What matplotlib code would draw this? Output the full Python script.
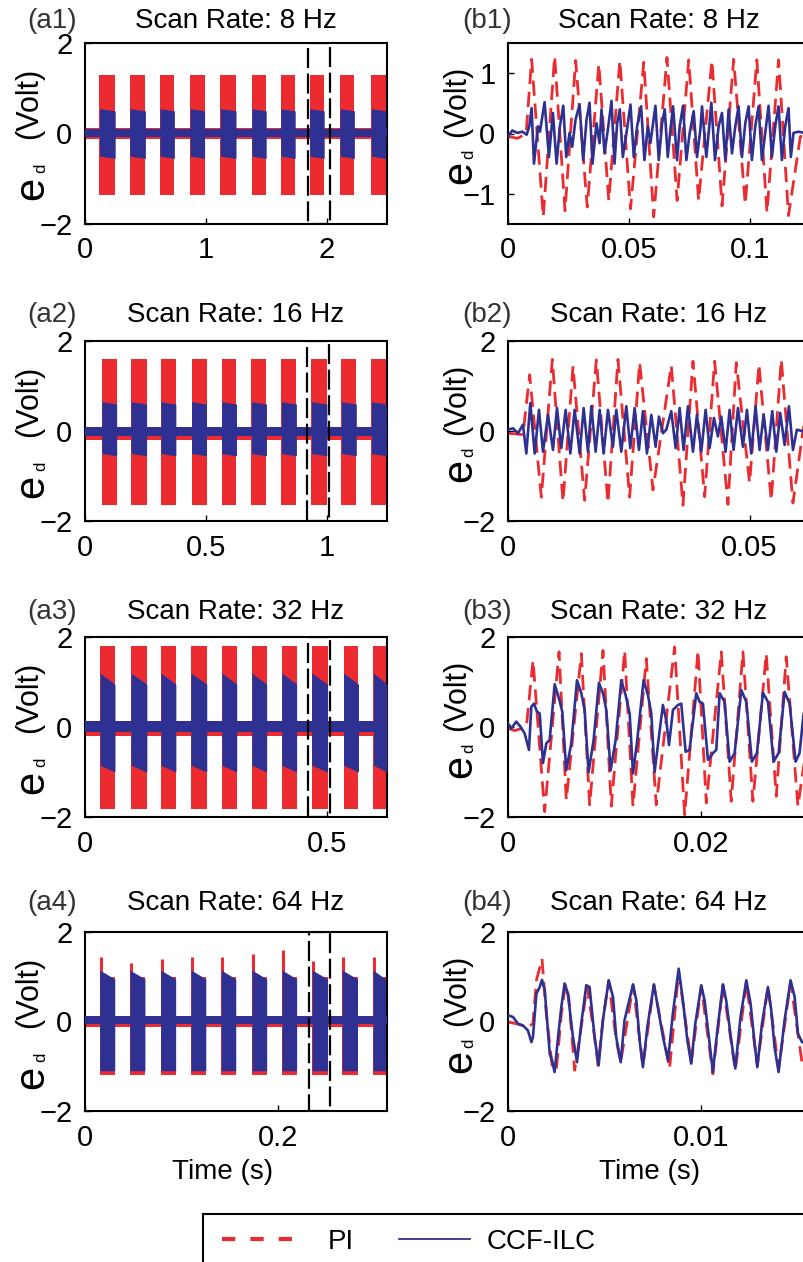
import numpy as np
import matplotlib.pyplot as plt
from matplotlib.patches import Rectangle
from matplotlib.lines import Line2D

plt.rcParams['font.family'] = ['Liberation Sans', 'DejaVu Sans']

RED = '#ec2b30'
BLUE = '#2e3192'

# ---- overview panels (a): burst windows and envelopes ----
a1_start = [0.12, 0.37, 0.62, 0.87, 1.12, 1.38, 1.62, 1.86, 2.11, 2.37]
a1_end = [0.25, 0.50, 0.74, 0.99, 1.25, 1.50, 1.74, 1.98, 2.23, 2.49]
a2_start = [0.069, 0.190, 0.314, 0.441, 0.565, 0.689, 0.813, 0.937, 1.061, 1.185]
a2_end = [0.131, 0.255, 0.376, 0.503, 0.627, 0.751, 0.875, 1.001, 1.123, 1.247]
a3_start = [0.031, 0.095, 0.157, 0.219, 0.283, 0.345, 0.407, 0.469, 0.535, 0.597]
a3_end = [0.062, 0.128, 0.188, 0.252, 0.314, 0.376, 0.438, 0.502, 0.566, 0.625]
a4_start = [0.0152, 0.0464, 0.0782, 0.1097, 0.1409, 0.1727, 0.2038, 0.235, 0.266, 0.298]
a4_end = [0.0308, 0.062, 0.0938, 0.125, 0.156, 0.188, 0.219, 0.251, 0.282, 0.311]
a4_pi_spike = [1.45, 1.30, 1.40, 1.45, 1.45, 1.50, 1.60, 1.35, 1.45, 1.45]

# envelopes (value at burst start, value at burst end)
a_pi_hi = [(1.30, 1.30), (1.60, 1.60), (1.80, 1.80), (1.00, 1.00)]
a_pi_lo = [(-1.35, -1.35), (-1.65, -1.65), (-1.82, -1.82), (-1.20, -1.20)]
a_ilc_hi = [(0.55, 0.50), (0.65, 0.60), (1.20, 0.95), (1.15, 0.95)]
a_ilc_lo = [(-0.50, -0.55), (-0.50, -0.55), (-0.85, -1.00), (-1.10, -1.10)]
a_pi_base = [(-0.12, 0.12), (-0.20, 0.10), (-0.20, 0.12), (-0.12, 0.12)]
a_ilc_base = [(-0.08, 0.10), (-0.12, 0.08), (-0.12, 0.13), (-0.05, 0.13)]
a_xmax = [2.5, 1.25, 0.625, 0.3125]
a_box = [(1.845, 2.025), (0.919, 1.012), (0.462, 0.507), (0.2316, 0.254)]
a_ticks = [[0, 1, 2], [0, 0.5, 1], [0, 0.5], [0, 0.2]]
a_tick_labels = [['0', '1', '2'], ['0', '0.5', '1'], ['0', '0.5'], ['0', '0.2']]

# ---- zoomed panels (b): times in ms, error in Volt ----
b1_pi_t = [0, 4.0, 7.5, 9.78, 14.6, 19.3, 23.6, 28.0, 32.8, 37.6, 41.7, 46.3, 50.7, 56.2, 60.3,
           65.8, 70.0, 74.8, 78.9, 84.4, 88.6, 93.4, 98.2, 103.0, 107.2, 112.0, 116.1, 121.0, 125.0]
b1_pi_v = [-0.05, -0.08, 0.0, 1.23, -1.38, 1.28, -1.28, 1.21, -1.22, 1.15, -1.11, 1.21, -1.25, 1.18,
           -1.38, 1.26, -1.11, 1.22, -1.11, 1.21, -1.20, 1.23, -1.17, 1.22, -1.31, 1.22, -1.36, -0.05, -0.05]
b1_ilc_t = [0, 1.79, 3.86, 5.92, 7.71, 8.82, 9.78, 10.74, 12.40, 13.22, 15.15, 16.94, 18.60, 20.11,
            21.49, 22.87, 24.10, 25.48, 26.58, 27.96, 29.61, 31.13, 32.51, 33.75, 34.99, 36.64, 37.88,
            38.71, 39.94, 41.32, 42.84, 44.08, 45.18, 46.28, 47.52, 49.04, 50.69, 52.07, 53.44, 55.10,
            56.47, 57.85, 58.95, 61.02, 62.40, 63.77, 64.88, 66.12, 67.22, 68.32, 69.97, 71.07, 72.45,
            73.83, 75.21, 76.86, 78.24, 79.61, 80.30, 82.09, 83.06, 84.16, 85.67, 87.19, 88.57, 89.94,
            91.32, 92.70, 94.08, 95.45, 96.83, 98.21, 99.59, 100.96, 102.34, 103.72, 105.10, 106.47,
            107.85, 109.23, 110.61, 111.98, 113.36, 114.74, 116.12, 117.08, 118.18, 120.25, 122.59, 125.0]
b1_ilc_v = [-0.05, 0.05, 0.01, 0.03, -0.02, 0.12, 0.42, -0.50, 0.12, 0.03, 0.52, -0.39, 0.34, -0.50,
            0.12, 0.46, -0.39, 0.01, -0.22, 0.23, 0.48, -0.44, 0.23, 0.51, -0.50, 0.17, -0.16, 0.40,
            -0.33, 0.06, 0.54, -0.50, 0.17, 0.40, -0.39, 0.01, 0.48, -0.39, 0.12, 0.45, -0.44, 0.12,
            -0.16, 0.46, -0.44, 0.17, 0.40, -0.39, 0.06, 0.45, -0.44, 0.12, 0.46, -0.44, 0.01, 0.37,
            -0.39, 0.06, 0.45, -0.39, 0.01, 0.51, -0.44, 0.12, 0.34, -0.44, 0.40, -0.33, 0.12, 0.45,
            -0.39, 0.17, 0.45, -0.44, 0.12, 0.45, -0.44, 0.01, 0.46, -0.39, 0.12, 0.45, -0.44, 0.12,
            0.42, -0.39, 0.01, 0.03, 0.01, 0.0]

b2_pi_t = [0, 3.10, 4.48, 6.90, 9.17, 11.38, 13.45, 15.86, 18.28, 20.69, 22.76, 25.17, 27.24, 30.00,
           33.79, 36.21, 38.28, 40.69, 42.76, 45.52, 47.24, 50.00, 51.93, 54.48, 56.55, 58.97, 61.17, 62.5]
b2_pi_v = [-0.05, -0.08, 1.25, -1.47, 1.59, -1.57, 1.44, -1.54, 1.58, -1.60, 1.59, -1.47, 1.52, -1.31,
           1.46, -1.65, 1.55, -1.46, 1.55, -1.63, 1.52, -1.15, 1.48, -1.54, 1.59, -1.60, 0.1, 0.1]
b2_ilc_t = [0, 1.03, 2.07, 3.10, 3.79, 4.62, 5.52, 6.41, 7.24, 8.28, 9.31, 10.14, 11.03, 11.93, 12.90,
            13.79, 14.83, 15.66, 16.55, 17.24, 18.14, 18.97, 19.79, 20.69, 21.72, 22.41, 23.45, 24.48,
            25.31, 26.21, 27.10, 27.93, 28.76, 29.66, 30.55, 31.24, 32.07, 32.76, 33.79, 34.69, 35.52,
            36.34, 37.24, 38.28, 39.10, 40.00, 40.90, 41.72, 42.62, 43.45, 44.14, 45.03, 45.86, 46.69,
            47.59, 48.62, 49.45, 50.34, 51.24, 52.07, 52.90, 53.79, 54.69, 55.52, 56.34, 57.24, 58.14,
            58.97, 59.79, 61.17, 62.5]
b2_ilc_v = [0.03, 0.06, -0.05, 0.14, -0.50, 0.62, -0.50, 0.47, -0.46, 0.36, -0.42, 0.51, -0.38, 0.47,
            -0.50, 0.47, -0.50, 0.51, -0.46, 0.55, -0.46, 0.47, -0.50, 0.47, -0.35, 0.47, -0.46, 0.55,
            -0.38, 0.51, -0.42, 0.44, -0.50, 0.36, -0.35, 0.32, -0.05, 0.03, 0.44, -0.38, 0.51, -0.42,
            0.55, -0.46, 0.36, -0.46, 0.47, -0.38, 0.29, -0.12, 0.32, -0.46, 0.47, -0.42, 0.51, -0.35,
            0.47, -0.50, 0.55, -0.42, 0.36, -0.42, 0.44, -0.46, 0.40, -0.31, 0.55, -0.42, 0.03, -0.01, 0.0]

b3_pi_t = [0, 0.69, 1.90, 2.59, 3.79, 5.28, 6.03, 7.59, 8.45, 9.83, 10.69, 12.07, 12.93, 14.31, 15.34,
           17.24, 18.28, 19.66, 20.52, 22.07, 23.10, 24.31, 25.34, 26.72, 27.76, 28.79, 30.00, 30.59, 31.25]
b3_pi_v = [-0.03, -0.08, 0.0, 1.48, -1.88, 1.67, -1.62, 1.63, -1.73, 1.70, -1.76, 1.70, -1.76, 1.52,
           -1.73, 1.78, -1.95, 1.70, -1.69, 1.67, -1.65, 1.67, -1.65, 1.63, -1.54, 1.56, -1.76, -0.88, 0.2]
b3_ilc_t = [0.00, 0.34, 0.86, 1.28, 1.72, 2.17, 2.41, 2.69, 3.00, 3.28, 3.62, 3.97, 4.31, 4.83, 5.28,
            5.62, 6.03, 6.55, 7.14, 7.59, 7.93, 8.34, 8.86, 9.41, 9.83, 10.17, 10.62, 11.14, 11.72,
            12.17, 12.59, 12.93, 13.34, 14.03, 14.48, 14.83, 15.17, 15.62, 16.03, 16.38, 16.66, 17.07,
            17.59, 17.93, 18.38, 18.79, 19.48, 19.83, 20.17, 20.69, 21.21, 21.55, 21.90, 22.41, 22.93,
            23.45, 24.14, 24.66, 25.24, 25.76, 26.38, 26.90, 27.48, 28.00, 28.62, 29.14, 29.76, 30.17,
            30.59, 31.25]
b3_ilc_v = [0.08, -0.03, 0.12, 0.01, -0.14, -0.51, 0.45, 0.52, 0.34, 0.30, -0.80, -0.36, -0.29, 0.95,
            0.63, 0.34, -0.96, -0.36, 1.04, 0.75, 0.38, -1.00, -0.29, 0.98, 0.75, 0.38, -0.96, -0.29,
            1.04, 0.71, 0.30, -1.03, -0.36, 1.04, 0.71, 0.30, -1.00, -0.21, 0.49, 0.15, -0.40, 0.38,
            0.49, 0.52, -0.55, -0.51, 0.75, 0.56, 0.52, -0.73, -0.58, -0.51, 0.75, 0.56, -0.77, -0.58,
            0.82, 0.56, -0.77, -0.58, 0.76, 0.56, -0.77, -0.58, 0.78, 0.52, -0.77, -0.58, 0.30, 0.50]

b4_pi_t = [0, 0.52, 1.03, 1.29, 1.47, 1.76, 1.98, 2.28, 2.50, 2.76, 2.97, 3.14, 3.45, 3.79, 4.09, 4.48,
           4.66, 4.91, 5.21, 5.60, 5.83, 6.47, 6.98, 7.55, 8.36, 8.83, 9.48, 10.00, 10.60, 11.12, 11.76,
           12.33, 12.90, 13.45, 14.00, 14.62, 15.21, 15.625]
b4_pi_v = [-0.01, -0.06, -0.12, -0.05, 0.92, 1.40, 0.17, -0.98, -1.09, 0.17, 0.83, 0.55, -1.09, -0.12,
           0.79, -0.35, -0.98, 0.03, 0.91, -0.42, -0.91, 0.81, -0.98, 0.81, -1.05, 1.11, -0.91, 0.79,
           -1.17, 0.81, -1.09, 0.88, -0.98, 0.79, -1.05, 0.88, -0.91, -0.9]
b4_ilc_t = [0.00, 0.26, 0.52, 0.78, 1.03, 1.21, 1.29, 1.47, 1.64, 1.76, 1.90, 2.16, 2.28, 2.41, 2.59,
            2.76, 2.93, 3.10, 3.36, 3.57, 3.79, 4.05, 4.22, 4.48, 4.69, 4.91, 5.21, 5.43, 5.60, 5.83,
            6.03, 6.47, 6.64, 6.81, 6.98, 7.21, 7.55, 7.72, 8.02, 8.28, 8.53, 8.83, 9.05, 9.28, 9.48,
            9.69, 10.00, 10.17, 10.43, 10.60, 10.83, 11.12, 11.29, 11.55, 11.76, 12.03, 12.33, 12.55,
            12.76, 12.90, 13.14, 13.45, 13.62, 13.79, 14.00, 14.31, 14.62, 14.83, 15.00, 15.21, 15.625]
b4_ilc_v = [0.14, 0.10, -0.05, -0.09, -0.20, -0.46, -0.35, 0.62, 0.77, 0.93, 0.70, -0.72, -0.87, -1.13,
            -0.35, 0.33, 0.85, 0.62, -0.35, -0.91, -0.05, 0.81, 0.77, -0.35, -0.98, 0.03, 0.92, 0.55,
            -0.35, -0.91, 0.03, 0.83, 0.47, -0.42, -1.02, -0.12, 0.83, 0.40, -0.35, -0.87, 0.18, 1.18,
            0.47, -0.42, -0.94, -0.05, 0.81, 0.47, -0.49, -1.13, -0.20, 0.83, 0.47, -0.42, -1.05, 0.10,
            0.92, 0.40, -0.49, -1.02, -0.05, 0.77, 0.25, -0.57, -1.13, 0.03, 0.92, 0.55, -0.27, -0.46, -0.5]

b_xmax = [0.125, 0.0625, 0.03125, 0.015625]
b_ylim = [1.5, 2, 2, 2]
b_yticks = [[-1, 0, 1], [-2, 0, 2], [-2, 0, 2], [-2, 0, 2]]
b_ticks = [[0, 0.05, 0.1], [0, 0.05], [0, 0.02], [0, 0.01]]
b_tick_labels = [['0', '0.05', '0.1'], ['0', '0.05'], ['0', '0.02'], ['0', '0.01']]

rates = [8, 16, 32, 64]
a_starts = [a1_start, a2_start, a3_start, a4_start]
a_ends = [a1_end, a2_end, a3_end, a4_end]
b_pi = [(b1_pi_t, b1_pi_v), (b2_pi_t, b2_pi_v), (b3_pi_t, b3_pi_v), (b4_pi_t, b4_pi_v)]
b_ilc = [(b1_ilc_t, b1_ilc_v), (b2_ilc_t, b2_ilc_v), (b3_ilc_t, b3_ilc_v), (b4_ilc_t, b4_ilc_v)]

# ---- layout (pixels of the 804x1262 canvas) ----
W, H = 804, 1262
rows = [(43, 224), (341, 521), (637, 817), (932, 1111)]
title_gap = [22, 26, 25, 29]
AX_W = 302
FS = 20

fig = plt.figure(figsize=(W / 100, H / 100), dpi=100)


def make_axes(left, top, bottom):
    return fig.add_axes([left / W, 1 - bottom / H, AX_W / W, (bottom - top) / H])


def ylab(ax, h, dx, dy):
    # dx: baselines of (Volt), e, d ; dy: centers below top of axes (pixels)
    parts = [('(Volt)', 22), ('e', 30), ('d', 12)]
    for (txt, size), x, y in zip(parts, dx, dy):
        ax.text(x / AX_W, 1 - y / h, txt, transform=ax.transAxes, rotation=90,
                rotation_mode='anchor', ha='center', va='baseline', fontsize=size)


def style(ax):
    for s in ax.spines.values():
        s.set_linewidth(1.5)
    ax.tick_params(direction='in', length=4, width=1, labelsize=21, pad=9,
                   top=False, right=False)


for i in range(4):
    top, bottom = rows[i]
    h = bottom - top
    ty = 1 + title_gap[i] / h

    # --- overview panel ---
    ax = make_axes(85, top, bottom)
    ax.fill_between([0, a_xmax[i]], a_pi_base[i][0], a_pi_base[i][1], color=RED, lw=0, zorder=1)
    for k, (s, e) in enumerate(zip(a_starts[i], a_ends[i])):
        ax.fill_between([s, e], [a_pi_lo[i][0], a_pi_lo[i][1]], [a_pi_hi[i][0], a_pi_hi[i][1]],
                        color=RED, lw=0, zorder=2)
        if i == 3:
            ax.vlines(s + 0.0012, 0, a4_pi_spike[k], color=RED, lw=2.2, zorder=2)
    ax.fill_between([0, a_xmax[i]], a_ilc_base[i][0], a_ilc_base[i][1], color=BLUE, lw=0, zorder=3)
    for s, e in zip(a_starts[i], a_ends[i]):
        ax.fill_between([s, e], [a_ilc_lo[i][0], a_ilc_lo[i][1]], [a_ilc_hi[i][0], a_ilc_hi[i][1]],
                        color=BLUE, lw=0, zorder=4)
    x0, x1 = a_box[i]
    ax.add_patch(Rectangle((x0, -2), x1 - x0, 4, fill=False, ec='k', lw=1.6,
                           ls=(0, (9, 2.5)), zorder=6))
    ax.set_xlim(0, a_xmax[i])
    ax.set_ylim(-2, 2)
    ax.set_xticks(a_ticks[i])
    ax.set_xticklabels(a_tick_labels[i])
    ax.set_yticks([-2, 0, 2])
    ax.set_yticklabels(['\u22122', '0', '2'])
    style(ax)
    ylab(ax, h, (-48, -42, -40), (60, 145, 125))
    ax.text(0.5, ty, f'Scan Rate: {rates[i]} Hz', transform=ax.transAxes,
            ha='center', va='center', fontsize=FS)
    ax.text(-0.109, ty, f'(a{i + 1})', transform=ax.transAxes, ha='center', va='center',
            fontsize=FS, color='#333333')
    if i == 3:
        ax.text(0.454, -61 / h, 'Time (s)', transform=ax.transAxes, ha='center', va='center',
                fontsize=FS)

    # --- zoomed panel ---
    bx = make_axes(508, top, bottom)
    pt, pv = b_pi[i]
    ct, cv = b_ilc[i]
    bx.plot(np.array(pt) / 1000, pv, color=RED, lw=2.0, dashes=(5.5, 2.8), zorder=2)
    bx.plot(np.array(ct) / 1000, cv, color=BLUE, lw=1.9, zorder=3)
    bx.set_xlim(0, b_xmax[i])
    bx.set_ylim(-b_ylim[i], b_ylim[i])
    bx.set_xticks(b_ticks[i])
    bx.set_xticklabels(b_tick_labels[i])
    bx.set_yticks(b_yticks[i])
    bx.set_yticklabels([str(v).replace('-', '\u2212') for v in b_yticks[i]])
    style(bx)
    ylab(bx, h, (-43, -37, -35), (58, 129, 111))
    bx.text(0.5, ty, f'Scan Rate: {rates[i]} Hz', transform=bx.transAxes,
            ha='center', va='center', fontsize=FS)
    bx.text(-0.07, ty, f'(b{i + 1})', transform=bx.transAxes, ha='center', va='center',
            fontsize=FS, color='#333333')
    if i == 3:
        bx.text(0.47, -61 / h, 'Time (s)', transform=bx.transAxes, ha='center', va='center',
                fontsize=FS)

# ---- legend: two single-entry legends so each label sits where it does in the figure ----
leg_y = 1 - 1242 / H
pi_handle = Line2D([], [], color=RED, lw=3, dashes=(3.2, 3.6))
ilc_handle = Line2D([], [], color=BLUE, lw=1.3)
fig.legend([pi_handle], ['PI'], loc='center left', bbox_to_anchor=(222 / W, leg_y),
           frameon=False, fontsize=FS, handlelength=2.55, handletextpad=1.25,
           borderpad=0, borderaxespad=0)
fig.legend([ilc_handle], ['CCF-ILC'], loc='center left', bbox_to_anchor=(399 / W, leg_y),
           frameon=False, fontsize=FS, handlelength=2.55, handletextpad=0.62,
           borderpad=0, borderaxespad=0)
fig.patches.append(Rectangle((203 / W, -0.05), 1, 0.05 + (H - 1214) / H, transform=fig.transFigure,
                             fill=False, ec='k', lw=1.5))

fig.savefig('out.png', dpi=100)
